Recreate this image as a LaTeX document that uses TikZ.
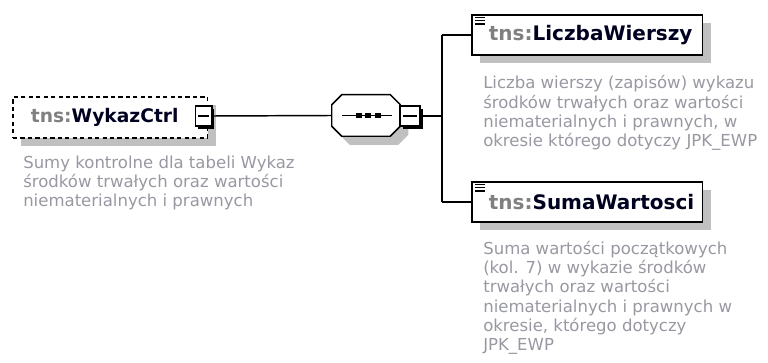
\documentclass[tikz,border=0pt]{standalone}
\usepackage{fontspec}
\setmainfont{DejaVu Sans}
\usetikzlibrary{positioning}
\usetikzlibrary{shadows}
\definecolor{descgray}{RGB}{152,152,162}
\definecolor{prefgray}{RGB}{128,128,128}
\definecolor{shadegray}{RGB}{192,192,192}
\definecolor{namecol}{RGB}{0,0,32}
\newcommand{\elname}[1]{{\color{prefgray}tns:}{\color{namecol}#1}}
\newcommand{\descfont}{\fontsize{12.4}{14.5}\selectfont}
% octagon of the sequence compositor round node #1
\newcommand{\octagon}[2]{\draw[#2] ([xshift=7.5pt]#1.north west) -- ([xshift=-7.5pt]#1.north east)
  -- ([yshift=-7.5pt]#1.north east) -- ([yshift=7.5pt]#1.south east)
  -- ([xshift=-7.5pt]#1.south east) -- ([xshift=7.5pt]#1.south west)
  -- ([yshift=7.5pt]#1.south west) -- ([yshift=-7.5pt]#1.north west) -- cycle;}

\tikzset{
  grayshadow/.style={drop shadow={shadow xshift=6pt,shadow yshift=-6pt,fill=shadegray,opacity=1}},
  elembox/.style={draw,line width=1.35pt,fill=white,anchor=north west,inner xsep=0pt,
    minimum height=30pt,grayshadow,font=\fontsize{15}{17}\selectfont\bfseries},
  minusbox/.style={draw,line width=1pt,fill=white,minimum width=12.5pt,minimum height=15pt,
    inner sep=0pt,drop shadow={shadow xshift=1.9pt,shadow yshift=-1.9pt,fill=black,opacity=1}},
  desc/.style={anchor=north west,inner sep=0pt,align=left,text=descgray,font=\descfont},
  conn/.style={line width=1.1pt}
}

\begin{document}
\begin{tikzpicture}[x=0.75pt,y=-0.75pt]
  \useasboundingbox (0,0) rectangle (768,363);

  % root element
  \node[elembox,dashed,dash pattern=on 3.2pt off 2.4pt,minimum width=146pt,text width=146pt,
    minimum height=31pt,align=left,font=\fontsize{14}{16}\selectfont\bfseries] (root) at (12,96)
    {\hspace{13.5pt}\elname{WykazCtrl}};
  \node[minusbox] (rootminus) at (203.5,116) {};
  \draw[line width=0.9pt] ([xshift=2.5pt]rootminus.west) -- ([xshift=-2.5pt]rootminus.east);
  \node[desc] (rootdesc) at (23,155.5) {Sumy kontrolne dla tabeli Wykaz\\
    środków trwałych oraz wartości\\niematerialnych i prawnych};

  % sequence
  \node[minimum width=51pt,minimum height=30.75pt,inner sep=0pt] (seqshadow) at (374,124) {};
  \octagon{seqshadow}{fill=shadegray,draw=none}
  \node[minimum width=51pt,minimum height=30.75pt,inner sep=0pt] (seq) at (366,115.5) {};
  \octagon{seq}{fill=white,line width=1.1pt}
  \draw[conn] ([xshift=8pt]seq.west) -- ([xshift=-6pt]seq.east);
  \foreach \dx in {-5.25,1.5,9}
    \fill ([xshift=\dx pt]seq.center) ++(-2.2pt,-2.2pt) rectangle ++(4.4pt,4.4pt);
  \node[minusbox,minimum width=15pt] (seqminus) at (410,116) {};
  \draw[line width=0.9pt] ([xshift=3pt]seqminus.west) -- ([xshift=-3pt]seqminus.east);

  % child elements
  \node[elembox,minimum width=173pt,text width=173pt,align=left] (rows) at (471,14)
    {\hspace{12.75pt}\elname{LiczbaWierszy}};
  \node[elembox,minimum width=173pt,text width=173pt,align=left] (sum) at (471,181)
    {\hspace{12.75pt}\elname{SumaWartosci}};
  \foreach \elem in {rows,sum}
    \foreach \dy in {2.5,5,7.5}
      \draw[line width=1pt] ([xshift=3pt,yshift=-\dy pt]\elem.north west) -- ++(7.5pt,0);
  \node[desc] (rowsdesc) at (483,75.5) {Liczba wierszy (zapisów) wykazu\\
    środków trwałych oraz wartości\\niematerialnych i prawnych, w\\
    okresie którego dotyczy JPK\_EWP};
  \node[desc] (sumdesc) at (483,240.5) {Suma wartości początkowych\\
    (kol. 7) w wykazie środków\\trwałych oraz wartości\\
    niematerialnych i prawnych w\\okresie, którego dotyczy\\JPK\_EWP};

  % connectors
  \coordinate (fork) at (442,116);
  \draw[conn] (rootminus.east) -- (seq.west);
  \draw[conn] (seqminus.east) -- (fork);
  \draw[conn] (fork |- rows.west) -- (fork |- sum.west);
  \draw[conn] (fork |- rows.west) -- (rows.west);
  \draw[conn] (fork |- sum.west) -- (sum.west);
\end{tikzpicture}
\end{document}
